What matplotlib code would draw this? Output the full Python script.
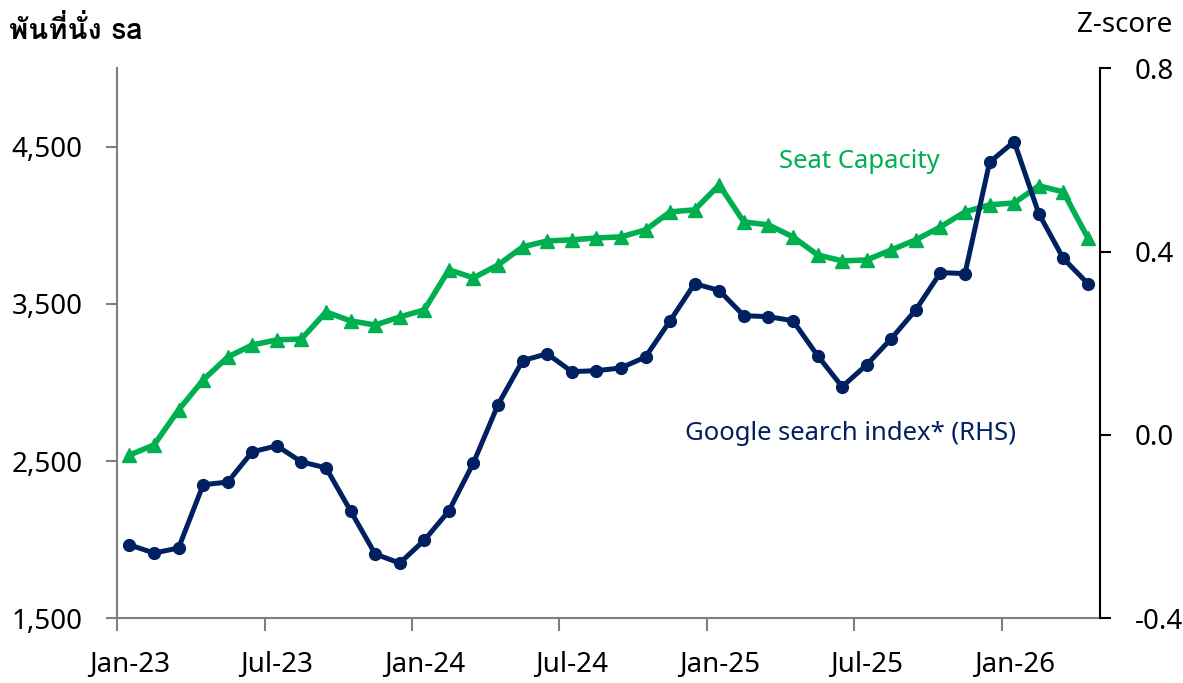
import numpy as np
import matplotlib
matplotlib.use('Agg')
import matplotlib.pyplot as plt

#-------------------------------------------------------------------------------
#DATA

months = ['Jan-23', 'Feb-23', 'Mar-23', 'Apr-23', 'May-23', 'Jun-23',
          'Jul-23', 'Aug-23', 'Sep-23', 'Oct-23', 'Nov-23', 'Dec-23',
          'Jan-24', 'Feb-24', 'Mar-24', 'Apr-24', 'May-24', 'Jun-24',
          'Jul-24', 'Aug-24', 'Sep-24', 'Oct-24', 'Nov-24', 'Dec-24',
          'Jan-25', 'Feb-25', 'Mar-25', 'Apr-25', 'May-25', 'Jun-25',
          'Jul-25', 'Aug-25', 'Sep-25', 'Oct-25', 'Nov-25', 'Dec-25',
          'Jan-26', 'Feb-26', 'Mar-26', 'Apr-26']

#seat capacity, thousand seats sa (LHS)
seats = [2538, 2602, 2825, 3016, 3162, 3239, 3271, 3277, 3449, 3392,
         3366, 3417, 3462, 3717, 3666, 3748, 3863, 3901, 3908, 3920,
         3927, 3971, 4086, 4099, 4258, 4022, 4003, 3927, 3812, 3774,
         3780, 3844, 3908, 3990, 4086, 4131, 4143, 4252, 4213, 3920]

#google search index z-score (RHS)
google = [-0.240, -0.258, -0.247, -0.109, -0.103, -0.037, -0.024, -0.059,
          -0.072, -0.166, -0.260, -0.280, -0.230, -0.166, -0.061, 0.066,
          0.162, 0.177, 0.138, 0.140, 0.146, 0.170, 0.249, 0.330,
          0.315, 0.260, 0.258, 0.249, 0.173, 0.105, 0.153, 0.210,
          0.273, 0.354, 0.352, 0.595, 0.640, 0.483, 0.385, 0.330]

left_ticks = [1500, 2500, 3500, 4500]
right_ticks = [-0.4, 0.0, 0.4, 0.8]

#-------------------------------------------------------------------------------
#STYLE

plt.rcParams['font.family'] = ['Noto Sans', 'Loma', 'DejaVu Sans']
green = '#00B050'
navy = '#002060'
grey = '#7f7f7f'
fs = 20

#-------------------------------------------------------------------------------
#MAIN

x = np.arange(len(months))

fig = plt.figure(figsize=(11.83, 6.83), dpi=100)
ax = fig.add_axes([0.099, 0.095, 0.831, 0.805])
ax2 = ax.twinx()

ax.plot(x, seats, color=green, lw=4, marker='^', ms=10.5, zorder=3)
ax2.plot(x, google, color=navy, lw=3.6, marker='o', ms=8.5, zorder=3)

ax.set_xlim(-0.5, len(months) - 0.5)
ax.set_ylim(1500, 5000)
ax2.set_ylim(-0.4, 0.8)

ax.set_yticks(left_ticks)
ax.set_yticklabels(['{:,}'.format(v) for v in left_ticks])
ax2.set_yticks(right_ticks)
ax2.set_yticklabels(['{:.1f}'.format(v) for v in right_ticks])

#ticks at month boundaries, labels at month centres
ax.set_xticks(x[::6] - 0.5)
ax.set_xticklabels([])
ax.set_xticks(x[::6], minor=True)
ax.set_xticklabels(months[::6], minor=True)
ax.tick_params(axis='x', which='minor', length=0, pad=24, labelsize=fs)
ax.tick_params(axis='x', which='major', length=9, width=1.5, color=grey)

for a in (ax, ax2):
    a.spines['top'].set_visible(False)
ax.spines['right'].set_visible(False)
ax.spines['left'].set_color(grey)
ax.spines['bottom'].set_color(grey)
ax.spines['left'].set_linewidth(1.5)
ax.spines['bottom'].set_linewidth(1.5)
ax2.spines['left'].set_visible(False)
ax2.spines['bottom'].set_visible(False)
ax2.spines['right'].set_linewidth(1.5)

ax.tick_params(axis='y', length=8, width=1.5, color=grey, labelsize=fs, pad=17)
ax2.tick_params(axis='y', length=8, width=1.5, labelsize=fs, pad=17)

ax.text(0.755, 0.83, 'Seat Capacity', transform=ax.transAxes, color=green,
        fontsize=18.5, ha='center', va='center')
ax.text(0.746, 0.335, 'Google search index* (RHS)', transform=ax.transAxes,
        color=navy, fontsize=18.5, ha='center', va='center')

fig.text(0.008, 0.955, 'พันที่นั่ง sa', fontsize=21, ha='left', va='center',
         family=['Loma', 'DejaVu Sans'], fontweight='bold')
fig.text(0.951, 0.963, 'Z-score', fontsize=fs, ha='center', va='center')

fig.savefig('out.png', dpi=100)
